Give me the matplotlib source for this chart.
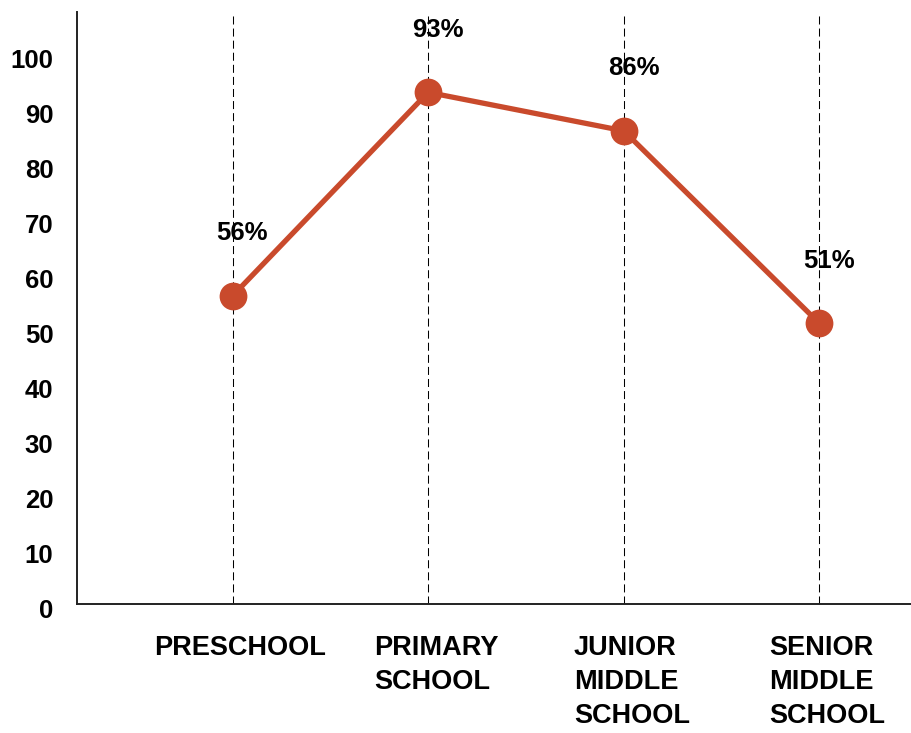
import numpy as np
import matplotlib
matplotlib.use("Agg")
import matplotlib.pyplot as plt
from matplotlib.transforms import ScaledTranslation

matplotlib.rc('font', family='Liberation Sans', weight='bold', size=18)

# data
categories = ["PRESCHOOL", "PRIMARY\nSCHOOL", "JUNIOR\nMIDDLE\nSCHOOL", "SENIOR\nMIDDLE\nSCHOOL"]
values = [56, 93, 86, 51]
yticks = [0, 10, 20, 30, 40, 50, 60, 70, 80, 90, 100]

line_color = "#C94A2C"

fig = plt.figure(figsize=(9.12, 7.33), dpi=100)
ax = fig.add_axes([0.0844, 0.176, 0.9156, 0.8076])

x = np.arange(len(categories))

# dashed guides at each category
for xi in x:
    ax.axvline(xi, color="black", lw=0.75, dashes=(7.7, 3.9), zorder=1)

ax.plot(x, values, color=line_color, lw=3.8, marker="o", markersize=20,
        markeredgewidth=0, zorder=3, solid_capstyle="round")

for xi, v in zip(x, values):
    ax.annotate(f"{v}%", (xi, v), xytext=(7, 45), textcoords="offset points",
                ha="center", va="center", fontsize=18.5, fontweight="bold")

ax.set_xlim(-0.795, 3.473)
ax.set_ylim(0, 107.6)
ax.set_yticks(yticks)
ax.set_xticks(x)
ax.set_xticklabels(categories, multialignment="left", linespacing=1.42)
ax.tick_params(axis="y", length=0, pad=17, labelsize=18.5)
ax.tick_params(axis="x", length=0, pad=22, labelsize=19.5)

# y labels sit slightly below their ticks in the reference
shift = ScaledTranslation(0, -5 / 100, fig.dpi_scale_trans)
for lab in ax.get_yticklabels():
    lab.set_transform(lab.get_transform() + shift)
xshift = ScaledTranslation(8 / 100, 0, fig.dpi_scale_trans)
for lab in ax.get_xticklabels():
    lab.set_transform(lab.get_transform() + xshift)

for side in ["top", "right"]:
    ax.spines[side].set_visible(False)
for side in ["left", "bottom"]:
    ax.spines[side].set_linewidth(1.4)
    ax.spines[side].set_color("#222222")

fig.savefig("out.png", dpi=100)
